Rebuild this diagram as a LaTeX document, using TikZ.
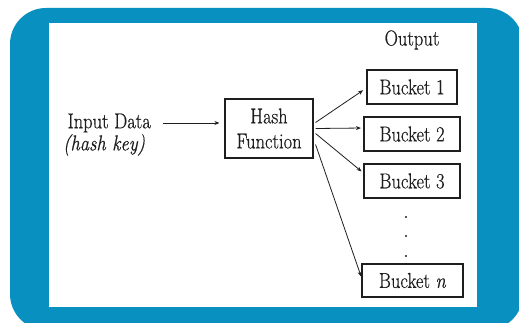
\documentclass[tikz,border=0pt]{standalone}
\usepackage{fontspec}
\setmainfont{Latin Modern Roman}[FakeBold=0.6]
\usetikzlibrary{calc,arrows.meta}
\definecolor{frameblue}{RGB}{8,145,192}
\definecolor{ink}{RGB}{30,30,30}
\begin{document}
\begin{tikzpicture}[x=1pt,y=-1pt,
  txt/.style={font=\fontsize{21.5}{25}\selectfont, text=ink, inner sep=0pt},
  boxnode/.style={draw=ink, line width=1.1pt, txt, align=center},
  arr/.style={draw=ink, line width=0.8pt, -{Stealth[length=5pt,width=4pt]}}]
\useasboundingbox (0,0) rectangle (519,323);
\fill[white] (0,0) rectangle (519,323);
\fill[frameblue, rounded corners=36pt] (10,8) rectangle (523,330);
\fill[white] (49,23) rectangle (477,307);

\node[txt] (output) at (412,40) {\scalebox{0.86}[1]{Output}};
\node[txt, anchor=east] (input) at (151,123) {\scalebox{0.86}[1]{Input Data}};
\node[txt, anchor=north west] (key) at (63,134) {\scalebox{0.86}[1]{\itshape (hash key)}};

\node[boxnode, minimum width=88pt, minimum height=59pt] (hash) at (269,128.5) {\scalebox{0.86}[1]{Hash}\\\scalebox{0.86}[1]{Function}};
\node[boxnode, minimum width=90pt, minimum height=34pt] (b1) at (412,87) {\scalebox{0.86}[1]{Bucket 1}};
\node[boxnode, minimum width=96pt, minimum height=34pt] (b2) at (412,134) {\scalebox{0.86}[1]{Bucket 2}};
\node[boxnode, minimum width=96pt, minimum height=34pt] (b3) at (412,181) {\scalebox{0.86}[1]{Bucket 3}};
\node[boxnode, minimum width=101pt, minimum height=33pt] (bn) at (412.5,280.5) {\scalebox{0.86}[1]{Bucket \textit{n}}};

\foreach \yy [count=\i] in {217,236,256} \fill[ink] (406,\yy) circle (1.1pt) coordinate (dot\i);

\draw[arr, shorten <=12pt, shorten >=5pt] (input.east) -- (input.east -| hash.west);
\draw[arr, shorten >=4pt] ($(hash.east)+(2,-6)$) -- ($(b1.west)+(0,1)$);
\draw[arr, shorten >=2.5pt] ($(hash.east)+(2,0)$) -- ($(b2.west)+(0,-6)$);
\draw[arr, shorten >=2.5pt] ($(hash.east)+(2,5)$) -- ($(b3.west)+(0,-8)$);
\draw[arr, shorten >=1pt] ($(hash.east)+(2,16)$) -- ($(bn.west)+(0,-3)$);
\end{tikzpicture}
\end{document}
